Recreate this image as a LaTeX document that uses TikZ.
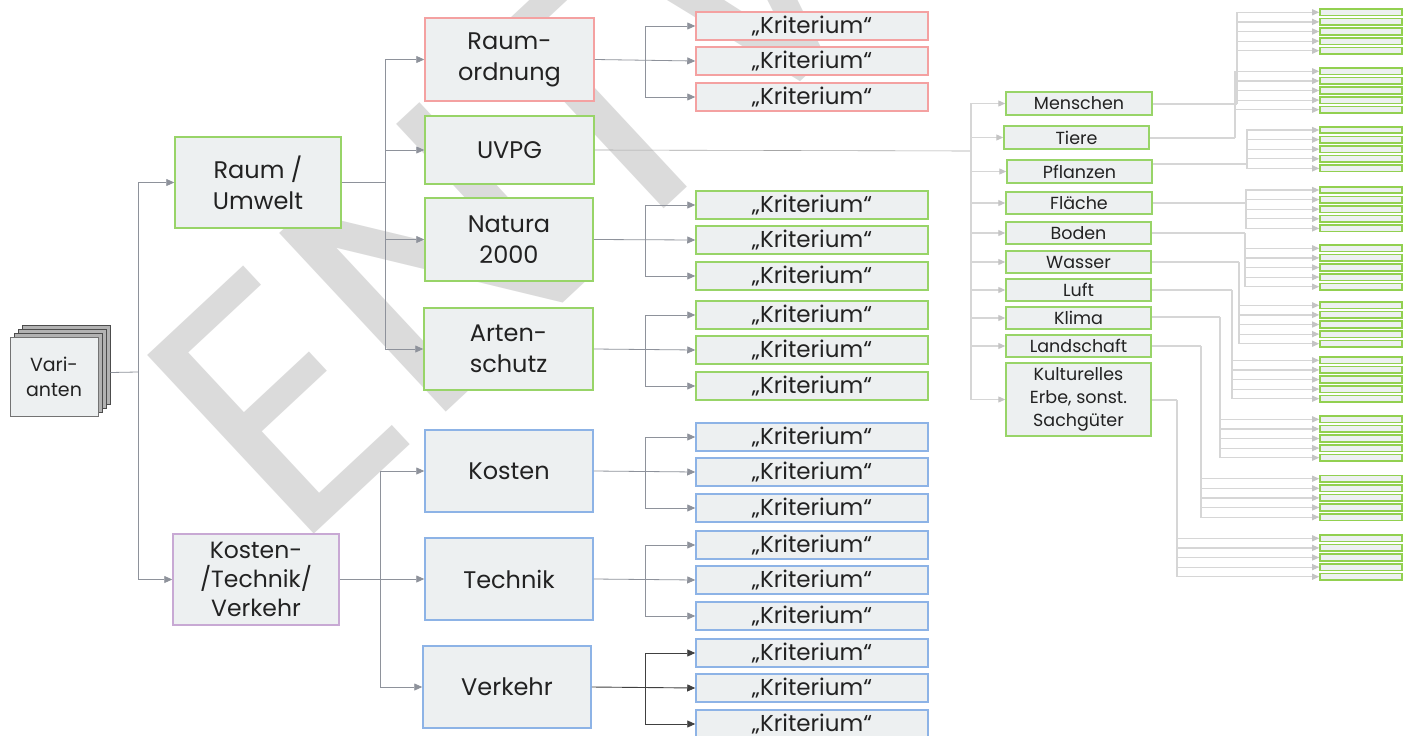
\documentclass[tikz,border=0pt]{standalone}
\usepackage{fontspec}
\setmainfont{Poppins}
\usetikzlibrary{arrows.meta}
\definecolor{boxfill}{HTML}{EDF0F1}
\definecolor{redB}{HTML}{F4A1A1}
\definecolor{greenB}{HTML}{98D468}
\definecolor{sgreen}{HTML}{92D050}
\definecolor{blueB}{HTML}{8DB3E6}
\definecolor{purpleB}{HTML}{C8A9D4}
\definecolor{connC}{HTML}{8E929B}
\definecolor{lightC}{HTML}{D6D6D6}
\definecolor{lightA}{HTML}{C4C4C4}
\definecolor{wmC}{HTML}{DBDBDB}
\definecolor{txtC}{HTML}{222222}
\definecolor{darkC}{HTML}{404040}
\tikzset{
  bx/.style={draw, fill=boxfill, line width=1.5pt, inner sep=0pt, align=center, text=txtC},
  big/.style={bx, font=\fontsize{24}{31}\selectfont},
  krit/.style={bx, minimum width=232, minimum height=28, font=\fontsize{23}{28}\selectfont},
  subj/.style={bx, draw=greenB, font=\fontsize{17.5}{23}\selectfont},
  sbox/.style={draw=sgreen, fill=boxfill, line width=1.6pt, inner sep=0pt, minimum width=82, minimum height=6.5},
  conn/.style={draw=connC, line width=0.8pt},
  arr/.style={conn, -{Triangle[length=8pt,width=7pt]}},
  darr/.style={draw=darkC, line width=0.9pt, -{Triangle[length=8pt,width=7pt]}},
  lconn/.style={draw=lightC, line width=1.2pt},
  larr/.style={lconn, -{Triangle[length=7pt,width=6pt,color=lightA]}},
  wm/.style={text=wmC, inner sep=0pt, font=\fontsize{350}{350}\selectfont}
}
\begin{document}
\begin{tikzpicture}[x=1pt,y=-1pt]
\useasboundingbox (0,0) rectangle (1409,736);
\fill[white] (0,0) rectangle (1409,736);
% watermark
\node[wm, rotate=43, anchor=north west] (wmark) at (128,374) {ENTWURF};
% variants stack
\foreach \o in {12,8,4} {
  \draw[fill=black!30, draw=black!70, line width=0.8pt] (10+\o,337-\o) rectangle (98+\o,416-\o);
}
\node[bx, draw=black!55, line width=1pt, minimum width=88, minimum height=79, font=\fontsize{19}{25}\selectfont] (var) at (54,376.5) {Vari-\\anten};
% level 1
\node[big, draw=greenB, minimum width=166, minimum height=91] (ru) at (258,182.5) {Raum /\\Umwelt};
\node[big, draw=purpleB, minimum width=166, minimum height=91, font=\fontsize{23.5}{29}\selectfont] (kt) at (256,579.5) {Kosten-\\/Technik/\\Verkehr};
% level 2
\node[big, draw=redB, minimum width=169, minimum height=83] (ro) at (509.5,59.5) {Raum-\\ordnung};
\node[big, draw=greenB, minimum width=169, minimum height=68] (uv) at (509.5,150) {UVPG};
\node[big, draw=greenB, minimum width=168, minimum height=83] (na) at (509,239.5) {Natura\\2000};
\node[big, draw=greenB, minimum width=169, minimum height=82] (ar) at (508.5,349) {Arten-\\schutz};
\node[big, draw=blueB, minimum width=168, minimum height=82] (ko) at (509,471) {Kosten};
\node[big, draw=blueB, minimum width=168, minimum height=82] (te) at (509,579) {Technik};
\node[big, draw=blueB, minimum width=168, minimum height=82] (ve) at (507,687) {Verkehr};
% connectors level 1/2
\coordinate (t1) at (138,372);
\draw[conn] (var.east) ++(12,-4) -- (t1);
\draw[arr] (t1) |- (ru.west);
\draw[arr] (t1) |- (kt.west);
\coordinate (t2) at (385,182.5);
\draw[conn] (ru.east) -- (t2);
\foreach \n in {ro,uv,na,ar} { \draw[arr] (t2) |- (\n.west); }
\coordinate (t3) at (380,579.5);
\draw[conn] (kt.east) -- (t3);
\foreach \n in {ko,te,ve} { \draw[arr] (t3) |- (\n.west); }
% Kriterium groups
\foreach \p/\c/\ya/\yb/\yc/\st in {ro/redB/26/61/97/arr, na/greenB/205/240/276/arr, ar/greenB/315/350/386/arr, ko/blueB/437/472/508/arr, te/blueB/545/580/616/arr, ve/blueB/653/688/724/darr} {
  \node[krit, draw=\c] (\p k1) at (812,\ya) {„Kriterium“};
  \node[krit, draw=\c] (\p k2) at (812,\yb) {„Kriterium“};
  \node[krit, draw=\c] (\p k3) at (812,\yc) {„Kriterium“};
  \coordinate (\p t) at (645,\yb);
  \draw[\st] (\p.east) -- (\p k2.west);
  \draw[\st] (\p t) |- (\p k1.west);
  \draw[\st] (\p t) |- (\p k3.west);
}
% subjects
\node[subj, minimum width=146, minimum height=23] (s1) at (1079,103.5) {Menschen};
\node[subj, minimum width=145, minimum height=23] (s2) at (1076.5,137.5) {Tiere};
\node[subj, minimum width=145, minimum height=23] (s3) at (1079.5,171.5) {Pflanzen};
\node[subj, minimum width=146, minimum height=22] (s4) at (1079,203) {Fläche};
\node[subj, minimum width=145, minimum height=22] (s5) at (1078.5,233) {Boden};
\node[subj, minimum width=145, minimum height=22] (s6) at (1078.5,262) {Wasser};
\node[subj, minimum width=145, minimum height=22] (s7) at (1078.5,290) {Luft};
\node[subj, minimum width=145, minimum height=22] (s8) at (1078.5,318) {Klima};
\node[subj, minimum width=145, minimum height=22] (s9) at (1078.5,346) {Landschaft};
\node[subj, minimum width=145, minimum height=73] (s10) at (1078.5,399.5) {Kulturelles\\Erbe, sonst.\\Sachgüter};
\coordinate (tu) at (971,151);
\draw[draw=black!35, line width=0.6pt] (uv.east) -- (tu);
\foreach \i in {1,...,10} { \draw[larr] (tu) |- (s\i.west); }
% small criteria boxes
\foreach \i/\tx/\ly/\yz in {1/1237/104/12.3, 2/1235/138/71.3, 3/1247/164/130, 4/1246/203/190, 5/1245/233/248.3, 6/1239/262/305.3, 7/1232/290/360.3, 8/1220/317/419.3, 9/1201/346/478.7, 10/1177/400/538.3} {
  \coordinate (tr\i) at (\tx,\ly);
  \draw[lconn] (s\i.east |- tr\i) -- (tr\i);
  \foreach \j in {0,...,4} {
    \node[sbox] (g\i-\j) at (1361,\yz+\j*9.6) {};
    \draw[larr] (tr\i) |- (g\i-\j.west);
  }
}
\end{tikzpicture}
\end{document}
